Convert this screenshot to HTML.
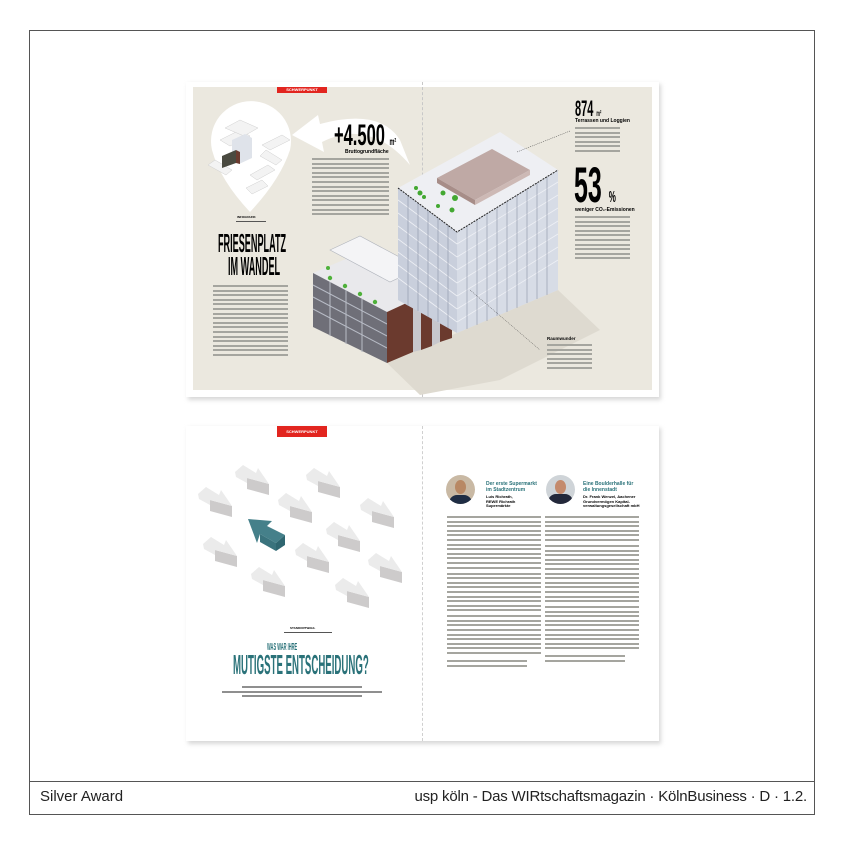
<!DOCTYPE html>
<html><head><meta charset="utf-8">
<style>
*{margin:0;padding:0;box-sizing:border-box}
body{width:844px;height:844px;background:#fff;position:relative;overflow:hidden;font-family:"Liberation Sans",sans-serif}
.a{position:absolute}
.frame{left:29px;top:30px;width:786px;height:785px;border:1px solid #555}
.cap{top:781px;left:29px;width:786px;border-top:1px solid #555}
.t{font-size:6px;line-height:1;white-space:nowrap}
.cond{display:inline-block;transform-origin:0 0;font-weight:bold}
.lines div{height:2px;background:#a5a59f;margin-bottom:2.6px}
.lines.d div{background:#8f8f8f}
</style></head><body>
<div class="a frame"></div>
<div class="a cap"></div>
<div class="a" style="left:40px;top:788px;font-size:15px;color:#222">Silver Award</div>
<div class="a" style="right:37px;top:788px;font-size:15px;color:#222;letter-spacing:-.2px">usp köln - Das WIRtschaftsmagazin · KölnBusiness · D · 1.2.</div>

<!-- TOP SPREAD -->
<div class="a" style="left:188px;top:84px;width:473px;height:316px;background:#d8d8d8;filter:blur(2px)"></div>
<div class="a" style="left:186px;top:82px;width:473px;height:315px;background:#fff"></div>
<div class="a" style="left:193px;top:87px;width:459px;height:303px;background:#ebe8df"></div>
<div class="a" style="left:422px;top:82px;width:0;height:315px;border-left:1px dashed #c8c8c8"></div>
<div class="a" style="left:277px;top:87px;width:50px;height:6px;background:#e2251f;color:#fff;font-size:4px;text-align:center;line-height:6px;font-weight:bold">SCHWERPUNKT</div>

<svg class="a" style="left:0;top:0" width="844" height="844">
 <path d="M212,150 A40,40 0 1 1 290,150 Q280,180 250,212 Q220,180 212,150Z" fill="#fff"/>
 <g fill="#f3f3f3" stroke="#cfcfcf" stroke-width=".5">
  <polygon points="220,140 240,130 250,136 230,146"/><polygon points="262,145 282,135 290,140 270,150"/>
  <polygon points="215,160 232,170 226,175 208,165"/><polygon points="250,175 268,165 275,170 257,180"/>
  <polygon points="246,188 262,180 268,186 252,194"/><polygon points="266,150 282,160 276,165 260,156"/>
  <polygon points="225,128 240,120 258,128 244,136"/>
 </g>
 <polygon points="232,140 245,134 252,138 252,158 239,164 232,160" fill="#dfe3ea"/>
 <polygon points="222,156 236,150 236,163 222,168" fill="#4a4a40"/>
 <polygon points="236,150 240,152 240,164 236,163" fill="#6b3b2f"/>
 <path d="M292,135 L318,115 L320,124 Q380,108 400,140 L410,165 Q370,118 322,142 L324,152Z" fill="#fff"/>
 <polygon points="387,363 457,333 558,290 600,330 500,380 420,395" fill="#dedad0"/>
 <polygon points="313,273 355,255 457,300 387,340" fill="#e9e9ec"/>
 <polygon points="313,273 387,312 387,363 313,327" fill="#6f6f78"/>
 <g stroke="#b8bcc6" stroke-width="1">
  <line x1="313" y1="285" x2="387" y2="324"/><line x1="313" y1="297" x2="387" y2="336"/><line x1="313" y1="309" x2="387" y2="348"/>
  <line x1="330" y1="282" x2="330" y2="336"/><line x1="346" y1="290" x2="346" y2="344"/><line x1="362" y1="299" x2="362" y2="352"/>
 </g>
 <polygon points="387,312 413,300 413,352 387,363" fill="#6b3a2e"/>
 <polygon points="413,300 421,296 421,350 413,352" fill="#c7c7cc"/>
 <polygon points="421,296 432,290 432,346 421,350" fill="#6b3a2e"/>
 <polygon points="432,290 440,286 440,342 432,346" fill="#c7c7cc"/>
 <polygon points="440,286 452,280 452,338 440,342" fill="#6b3a2e"/>
 <polygon points="330,250 360,236 420,268 390,282" fill="#f4f4f6" stroke="#b0b4bc" stroke-width=".6"/>
 <g fill="#4fb13a"><circle cx="330" cy="278" r="2.2"/><circle cx="345" cy="286" r="2.2"/><circle cx="360" cy="294" r="2.2"/><circle cx="375" cy="302" r="2.2"/><circle cx="405" cy="275" r="2.5"/><circle cx="425" cy="282" r="2.5"/><circle cx="440" cy="278" r="2.5"/><circle cx="328" cy="268" r="2"/></g>
 <polygon points="398,188 500,132 558,170 457,232" fill="#eeeff3"/>
 <polygon points="398,188 457,232 457,333 398,300" fill="#c9cfdc"/>
 <polygon points="457,232 558,170 558,290 457,333" fill="#d7dce6"/>
 <g stroke="#eef0f5" stroke-width=".8">
  <line x1="398" y1="200" x2="457" y2="244"/><line x1="398" y1="213" x2="457" y2="257"/><line x1="398" y1="226" x2="457" y2="270"/><line x1="398" y1="239" x2="457" y2="283"/><line x1="398" y1="252" x2="457" y2="296"/><line x1="398" y1="265" x2="457" y2="309"/><line x1="398" y1="278" x2="457" y2="322"/>
  <line x1="457" y1="244" x2="558" y2="182"/><line x1="457" y1="257" x2="558" y2="195"/><line x1="457" y1="270" x2="558" y2="208"/><line x1="457" y1="283" x2="558" y2="221"/><line x1="457" y1="296" x2="558" y2="234"/><line x1="457" y1="309" x2="558" y2="247"/><line x1="457" y1="322" x2="558" y2="260"/>
 </g>
 <g stroke="#8c93a6" stroke-width=".6">
  <line x1="408" y1="195" x2="408" y2="306"/><line x1="418" y1="203" x2="418" y2="311"/><line x1="428" y1="210" x2="428" y2="317"/><line x1="438" y1="218" x2="438" y2="322"/><line x1="448" y1="225" x2="448" y2="328"/>
  <line x1="467" y1="226" x2="467" y2="329"/><line x1="477" y1="220" x2="477" y2="325"/><line x1="487" y1="214" x2="487" y2="321"/><line x1="497" y1="208" x2="497" y2="316"/><line x1="507" y1="201" x2="507" y2="312"/><line x1="517" y1="195" x2="517" y2="308"/><line x1="527" y1="189" x2="527" y2="303"/><line x1="537" y1="183" x2="537" y2="299"/><line x1="547" y1="177" x2="547" y2="295"/>
 </g>
 <polyline points="398,188 457,232 558,170" fill="none" stroke="#222" stroke-width="1" stroke-dasharray="2,1"/>
 <polygon points="437,178 492,149 530,170 475,200" fill="#bfa9a5"/>
 <polygon points="437,178 475,200 475,205 437,183" fill="#a78d88"/>
 <polygon points="475,200 530,170 530,175 475,205" fill="#cdb9b5"/>
 <g fill="#43a832"><circle cx="420" cy="193" r="2.5"/><circle cx="424" cy="197" r="2"/><circle cx="443" cy="193" r="2.5"/><circle cx="455" cy="198" r="3"/><circle cx="452" cy="210" r="2.5"/><circle cx="438" cy="206" r="2"/><circle cx="416" cy="188" r="2"/></g>
 <line x1="517" y1="152" x2="570" y2="131" stroke="#333" stroke-width=".5" stroke-dasharray="1,1"/>
 <line x1="470" y1="290" x2="540" y2="350" stroke="#333" stroke-width=".5" stroke-dasharray="1,1"/>
</svg>

<!-- top texts -->
<div class="a t" style="left:334px;top:121px;font-size:30px"><span class="cond" style="transform:scaleX(.55)">+4.500 <span style="font-size:10px">m²</span></span></div>
<div class="a t" style="left:345px;top:150px;font-size:5px;font-weight:bold">Bruttogrundfläche</div>
<div class="a lines" style="left:312px;top:158px;width:77px"><div></div><div></div><div></div><div></div><div></div><div></div><div></div><div></div><div></div><div></div><div></div><div></div><div></div></div>
<div class="a" style="left:236px;top:221px;width:30px;height:1px;background:#555"></div>
<div class="a t" style="left:237px;top:216px;font-size:3px;font-weight:bold">INFOGRAFIK</div>
<div class="a t" style="left:218px;top:232px;font-size:26px;line-height:22px"><span class="cond" style="transform:scaleX(.35)">FRIESENPLATZ</span></div>
<div class="a t" style="left:228px;top:255px;font-size:26px;line-height:22px"><span class="cond" style="transform:scaleX(.35)">IM WANDEL</span></div>
<div class="a lines" style="left:213px;top:285px;width:75px"><div></div><div></div><div></div><div></div><div></div><div></div><div></div><div></div><div></div><div></div><div></div><div></div><div style="margin-top:2px"></div><div></div><div></div><div></div></div>
<div class="a t" style="left:575px;top:98px;font-size:22px"><span class="cond" style="transform:scaleX(.5)">874 <span style="font-size:8px">m²</span></span></div>
<div class="a t" style="left:575px;top:119px;font-size:5px;font-weight:bold">Terrassen und Loggien</div>
<div class="a lines" style="left:575px;top:127px;width:45px"><div></div><div></div><div></div><div></div><div></div><div></div></div>
<div class="a t" style="left:574px;top:160px;font-size:50px"><span class="cond" style="transform:scaleX(.5)">53 <span style="font-size:16px">%</span></span></div>
<div class="a t" style="left:575px;top:208px;font-size:5px;font-weight:bold">weniger CO₂-Emissionen</div>
<div class="a lines" style="left:575px;top:216px;width:55px"><div></div><div></div><div></div><div></div><div></div><div></div><div></div><div></div><div></div><div></div></div>
<div class="a t" style="left:547px;top:337px;font-size:4.5px;font-weight:bold">Raumwunder</div>
<div class="a lines" style="left:547px;top:344px;width:45px"><div></div><div></div><div></div><div></div><div></div><div></div></div>

<!-- BOTTOM SPREAD -->
<div class="a" style="left:188px;top:428px;width:473px;height:316px;background:#d8d8d8;filter:blur(2px)"></div>
<div class="a" style="left:186px;top:426px;width:473px;height:315px;background:#fff"></div>
<div class="a" style="left:422px;top:426px;width:0;height:315px;border-left:1px dashed #d0d0d0"></div>
<div class="a" style="left:277px;top:426px;width:50px;height:11px;background:#e2251f;color:#fff;font-size:4px;text-align:center;line-height:11px;font-weight:bold">SCHWERPUNKT</div>

<svg class="a" style="left:0;top:0" width="844" height="844">
 <defs>
  <g id="ar">
   <polygon points="12,13 34,19 34,30 12,24" fill="#cdcbcb"/>
   <polygon points="0,7 8,0 21,8 23,3 34,19 12,13 12,18 1,12" fill="#ebebeb"/>
  </g>
 </defs>
 <use href="#ar" x="235" y="465"/>
 <use href="#ar" x="306" y="468"/>
 <use href="#ar" x="198" y="487"/>
 <use href="#ar" x="278" y="493"/>
 <use href="#ar" x="360" y="498"/>
 <use href="#ar" x="326" y="522"/>
 <use href="#ar" x="203" y="537"/>
 <use href="#ar" x="295" y="543"/>
 <use href="#ar" x="368" y="553"/>
 <use href="#ar" x="251" y="567"/>
 <use href="#ar" x="335" y="578"/>
 <g transform="translate(248,519)">
  <polygon points="0,0 24,2 19,7 37,16 28,24 12,15 9,24" fill="#45808a"/>
  <polygon points="28,24 37,16 37,26 28,32" fill="#2f6670"/>
  <polygon points="12,15 28,24 28,32 12,23" fill="#3a737d"/>
 </g>
</svg>

<div class="a" style="left:284px;top:632px;width:48px;height:1px;background:#555"></div>
<div class="a t" style="left:290px;top:627px;font-size:3px;font-weight:bold">STANDORTWAHL</div>
<div class="a t" style="left:267px;top:643px;font-size:10px;color:#2a7279"><span class="cond" style="transform:scaleX(.4)">WAS WAR IHRE</span></div>
<div class="a t" style="left:233px;top:651px;font-size:28px;color:#2a7279"><span class="cond" style="transform:scaleX(.345)">MUTIGSTE ENTSCHEIDUNG?</span></div>
<div class="a lines d" style="left:222px;top:686px;width:160px"><div style="margin-left:20px;width:120px"></div><div></div><div style="margin-left:20px;width:120px"></div></div>

<div class="a" style="left:446px;top:475px;width:29px;height:29px;border-radius:50%;background:#c9b9a4;overflow:hidden"><div style="position:absolute;left:3px;top:20px;width:23px;height:12px;border-radius:8px 8px 0 0;background:#1f2d44"></div><div style="position:absolute;left:9px;top:5px;width:11px;height:14px;border-radius:50%;background:#b88864"></div></div>
<div class="a" style="left:546px;top:475px;width:29px;height:29px;border-radius:50%;background:#cfd4d8;overflow:hidden"><div style="position:absolute;left:2px;top:19px;width:25px;height:12px;border-radius:8px 8px 0 0;background:#23283a"></div><div style="position:absolute;left:9px;top:5px;width:11px;height:14px;border-radius:50%;background:#c48a6c"></div></div>
<div class="a t" style="left:486px;top:481px;font-size:5px;color:#2a7279;font-weight:bold;line-height:6px">Der erste Supermarkt<br>im Stadtzentrum</div>
<div class="a t" style="left:486px;top:495px;font-size:4px;font-weight:bold;line-height:4.5px">Luis Richrath,<br>REWE Richrath<br>Supermärkte</div>
<div class="a t" style="left:583px;top:481px;font-size:5px;color:#2a7279;font-weight:bold;line-height:6px">Eine Boulderhalle für<br>die Innenstadt</div>
<div class="a t" style="left:583px;top:495px;font-size:4px;font-weight:bold;line-height:4.5px">Dr. Frank Wenzel, Aachener<br>Grundvermögen Kapital-<br>verwaltungsgesellschaft mbH</div>
<div class="a lines" style="left:447px;top:516px;width:94px"><div></div><div></div><div></div><div></div><div></div><div></div><div></div><div></div><div></div><div></div><div></div><div></div><div style="margin-top:4px"></div><div></div><div></div><div></div><div></div><div></div><div></div><div></div><div></div><div style="margin-top:4px"></div><div></div><div></div><div></div><div></div><div></div><div></div><div></div><div></div><div style="margin-top:6px;width:80px"></div><div style="width:80px"></div></div>
<div class="a lines" style="left:545px;top:516px;width:94px"><div></div><div></div><div></div><div></div><div></div><div></div><div style="margin-top:4px"></div><div></div><div></div><div></div><div></div><div></div><div></div><div></div><div></div><div></div><div></div><div></div><div></div><div style="margin-top:4px"></div><div></div><div></div><div></div><div></div><div></div><div></div><div></div><div></div><div></div><div style="margin-top:6px;width:80px"></div><div style="width:80px"></div></div>
</body></html>
